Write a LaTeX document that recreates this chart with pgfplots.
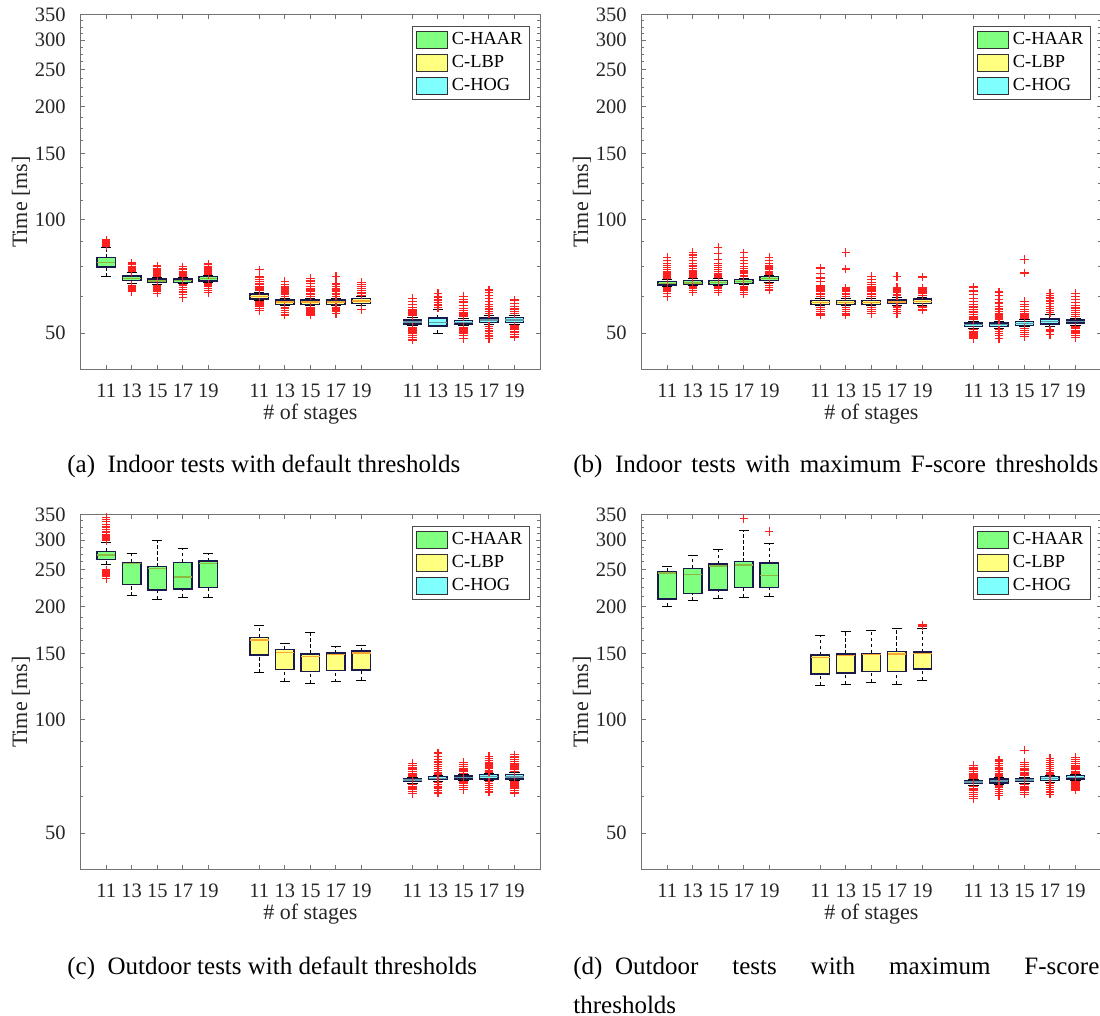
\documentclass[border=0pt]{standalone}
\usepackage{fontspec}
\setmainfont{Liberation Serif}
\usepackage{pgfplots}
\pgfplotsset{compat=1.18}
\definecolor{haar}{rgb}{0.5,1,0.5}
\definecolor{lbp}{rgb}{1,1,0.5}
\definecolor{hog}{rgb}{0.5,1,1}
\definecolor{haarmed}{rgb}{0.55,0.72,0.25}
\definecolor{lbpmed}{rgb}{0.97,0.65,0.2}
\definecolor{hogmed}{rgb}{0.4,0.6,0.65}
\definecolor{axgray}{rgb}{0.45,0.45,0.45}
\definecolor{boxedge}{rgb}{0.1,0.1,0.3}
\definecolor{txtc}{rgb}{0.15,0.15,0.15}
\definecolor{outred}{rgb}{1,0.12,0.12}
\pgfplotsset{
  legend image code/.code={\draw[#1] (0pt,-4.2pt) rectangle (15.5pt,4.2pt);},
  whsk/.style={forget plot, draw=black, line width=0.5pt, dash pattern=on 1.7pt off 1.3pt, mark=none},
  wcap/.style={forget plot, draw=black, line width=0.5pt, mark=none},
  wmed/.style={forget plot, draw=#1, line width=0.7pt, mark=none},
  wbox/.style={forget plot, fill=#1, draw=boxedge, line width=0.7pt, mark=none},
  woutl/.style={forget plot, color=outred, only marks, mark=+, mark size=2.1pt,
    mark options={color=outred, line width=0.65pt, solid}},
}
\newcommand{\axopts}{%
    ymode=log, ymin=40, ymax=350, xmin=0, xmax=18,
    scale only axis, width=229.65pt, height=177.25pt,
    xtick={1,2,3,4,5,7,8,9,10,11,13,14,15,16,17},
    xticklabels={11,13,15,17,19,11,13,15,17,19,11,13,15,17,19},
    ytick={50,100,150,200,250,300,350},
    yticklabels={50,100,150,200,250,300,350},
    minor ytick={62.5,75,87.5,112.5,125,137.5,162.5,175,187.5,212.5,225,237.5,262.5,275,287.5,312.5,325,337.5},
    tick align=inside,
    major tick length=2.15pt, minor tick length=1.35pt,
    every tick/.append style={axgray, line width=0.5pt},
    axis line style={axgray, line width=0.5pt},
    tick label style={font=\fontsize{10.25}{12}\selectfont, text=txtc},
    xticklabel style={yshift=-3.6pt},
    yticklabel style={xshift=-4pt},
    xlabel={\# of stages}, ylabel={Time [ms]},
    label style={font=\fontsize{11}{13}\selectfont, text=txtc},
    xlabel style={at={(axis description cs:0.5,-0.127)}, anchor=center},
    ylabel style={at={(axis description cs:-0.13,0.472)}, anchor=center},
    legend cell align=left,
    legend style={at={(1,1)}, anchor=north east, xshift=-5pt, yshift=-5.35pt,
      draw=black!70, line width=0.5pt, font=\fontsize{9.2}{11}\selectfont,
      inner xsep=1.5pt, inner ysep=1pt}}
\newcommand{\beginaxii}[1]{\begin{axis}[#1]}
\newcommand{\beginax}[2]{\expandafter\beginaxii\expandafter{\axopts, at={(#1,#2)}, anchor=north west}}
\newcommand{\leg}{%
  \addlegendimage{fill=haar, draw=black!80, line width=0.5pt}\addlegendentry{C-HAAR}
  \addlegendimage{fill=lbp, draw=black!80, line width=0.5pt}\addlegendentry{C-LBP}
  \addlegendimage{fill=hog, draw=black!80, line width=0.5pt}\addlegendentry{C-HOG}}
% box: position, lower whisker, lower quartile, median, upper quartile, upper whisker, colour
\newcommand{\bxn}[7]{%
  \pgfmathsetmacro\xl{#1-0.36}\pgfmathsetmacro\xr{#1+0.36}%
  \pgfmathsetmacro\xcl{#1-0.2}\pgfmathsetmacro\xcr{#1+0.2}%
  \edef\tmp{%
    \noexpand\addplot[whsk] coordinates {(#1,#2) (#1,#3)};
    \noexpand\addplot[whsk] coordinates {(#1,#5) (#1,#6)};
    \noexpand\addplot[wcap] coordinates {(\xcl,#2) (\xcr,#2)};
    \noexpand\addplot[wcap] coordinates {(\xcl,#6) (\xcr,#6)};
    \noexpand\addplot[wbox=#7] coordinates {(\xl,#3) (\xr,#3) (\xr,#5) (\xl,#5)} --cycle;
    \noexpand\addplot[wmed=#7med] coordinates {(\xl,#4) (\xr,#4)};
  }\tmp}
% box with outliers (8th argument)
\newcommand{\bx}[8]{\bxn{#1}{#2}{#3}{#4}{#5}{#6}{#7}%
  \addplot[woutl] table[row sep=\\, x expr=#1, y index=0] {v\\ #8};}
\begin{document}
\begin{tikzpicture}
\useasboundingbox (0,0) rectangle (550pt,508pt);
% ---------------- (a)
\beginax{40.35pt}{500.5pt}
\leg
\bx{1}{70.6}{74.8}{77.0}{79.3}{84.2}{haar}{85.2\\ 85.8\\ 86.3\\ 86.8\\ 87.4\\ 88.4\\}
\bx{2}{67.5}{68.9}{69.9}{70.9}{72.4}{haar}{72.8\\ 73.3\\ 73.8\\ 74.2\\ 74.6\\ 75.2\\ 76.0\\ 76.8\\ 67.0\\ 66.5\\ 66.0\\ 65.5\\ 65.1\\ 64.5\\}
\bx{3}{67.2}{68.1}{68.8}{69.5}{70.3}{haar}{70.8\\ 71.3\\ 71.8\\ 72.3\\ 72.8\\ 73.5\\ 74.3\\ 75.3\\ 66.8\\ 66.3\\ 65.8\\ 65.2\\ 64.6\\ 63.8\\}
\bx{4}{67.6}{68.2}{69.0}{69.6}{70.3}{haar}{70.8\\ 71.3\\ 71.8\\ 72.3\\ 72.9\\ 73.6\\ 74.2\\ 75.0\\ 67.2\\ 66.8\\ 66.0\\ 65.2\\ 64.3\\ 63.2\\ 62.2\\}
\bx{5}{68.0}{68.7}{69.7}{70.6}{71.2}{haar}{71.6\\ 72.1\\ 72.6\\ 73.2\\ 73.8\\ 74.4\\ 75.2\\ 76.3\\ 67.5\\ 67.0\\ 66.4\\ 65.7\\ 64.9\\ 64.1\\}
\bx{7}{60.9}{61.6}{62.5}{63.5}{64.2}{lbp}{64.8\\ 65.4\\ 66.0\\ 66.6\\ 67.2\\ 67.8\\ 68.5\\ 69.5\\ 70.5\\ 73.6\\ 60.4\\ 59.9\\ 59.3\\ 58.7\\ 58.0\\ 57.3\\}
\bx{8}{59.0}{59.6}{60.5}{61.2}{61.9}{lbp}{62.6\\ 63.2\\ 63.8\\ 64.3\\ 64.9\\ 65.5\\ 66.3\\ 67.2\\ 68.5\\ 58.5\\ 58.0\\ 57.4\\ 56.7\\ 55.8\\}
\bx{9}{59.0}{59.6}{60.4}{61.2}{61.9}{lbp}{62.6\\ 63.2\\ 63.8\\ 64.4\\ 65.0\\ 65.7\\ 66.6\\ 67.6\\ 68.7\\ 69.8\\ 58.5\\ 57.9\\ 57.2\\ 56.5\\ 55.8\\}
\bx{10}{59.0}{59.6}{60.4}{61.2}{61.9}{lbp}{62.6\\ 63.2\\ 63.8\\ 64.4\\ 65.0\\ 65.7\\ 66.5\\ 67.5\\ 70.6\\ 58.5\\ 57.9\\ 57.2\\ 56.3\\}
\bx{11}{59.3}{59.8}{60.8}{61.7}{62.4}{lbp}{63.0\\ 63.6\\ 64.2\\ 64.8\\ 65.6\\ 66.5\\ 67.3\\ 68.2\\ 57.8\\}
\bx{13}{52.3}{52.8}{53.5}{54.2}{55.0}{hog}{55.6\\ 56.2\\ 56.9\\ 57.6\\ 58.5\\ 59.5\\ 60.6\\ 61.8\\ 51.8\\ 51.2\\ 50.6\\ 50.0\\ 49.3\\ 48.6\\ 47.9\\}
\bx{14}{49.9}{52.2}{53.4}{54.8}{57.8}{hog}{58.5\\ 59.3\\ 60.2\\ 61.2\\ 62.3\\ 63.6\\}
\bx{15}{52.3}{52.8}{53.4}{54.0}{54.8}{hog}{55.3\\ 55.8\\ 56.5\\ 57.3\\ 58.2\\ 59.2\\ 60.4\\ 61.5\\ 62.6\\ 51.8\\ 51.2\\ 50.6\\ 50.0\\ 49.3\\ 48.4\\}
\bx{16}{52.6}{53.3}{54.1}{54.8}{55.8}{hog}{56.4\\ 57.1\\ 57.9\\ 58.7\\ 59.6\\ 60.6\\ 61.7\\ 62.9\\ 64.0\\ 65.1\\ 52.0\\ 51.3\\ 50.6\\ 49.9\\ 49.1\\ 48.4\\}
\bx{17}{52.8}{53.4}{54.2}{55.0}{55.8}{hog}{56.4\\ 57.1\\ 57.9\\ 58.8\\ 59.9\\ 61.2\\ 52.2\\ 51.6\\ 51.0\\ 50.3\\ 49.6\\ 48.8\\}
\end{axis}
% ---------------- (b)
\beginax{320.85pt}{500.5pt}
\leg
\bx{1}{66.3}{67.0}{67.7}{68.5}{69.3}{haar}{69.8\\ 70.4\\ 71.0\\ 71.6\\ 72.2\\ 72.9\\ 73.6\\ 74.5\\ 75.5\\ 76.6\\ 77.8\\ 79.3\\ 65.8\\ 65.1\\ 64.4\\ 63.6\\ 62.5\\}
\bx{2}{66.8}{67.3}{67.9}{68.9}{69.6}{haar}{70.1\\ 70.7\\ 71.3\\ 71.9\\ 72.6\\ 73.4\\ 74.3\\ 75.3\\ 76.5\\ 77.8\\ 79.2\\ 80.6\\ 81.9\\ 66.2\\ 65.6\\ 64.9\\ 64.2\\}
\bx{3}{66.8}{67.3}{68.0}{68.9}{69.6}{haar}{70.1\\ 70.7\\ 71.3\\ 72.0\\ 72.8\\ 73.6\\ 74.5\\ 75.5\\ 76.6\\ 78.4\\ 81.5\\ 84.3\\ 66.3\\ 65.6\\ 64.9\\ 64.2\\}
\bx{4}{67.1}{67.8}{68.5}{69.3}{70.0}{haar}{70.6\\ 71.2\\ 71.9\\ 72.6\\ 73.4\\ 74.3\\ 75.2\\ 76.4\\ 77.8\\ 79.5\\ 81.7\\ 66.5\\ 65.8\\ 65.0\\ 64.2\\ 63.4\\}
\bx{5}{68.2}{69.0}{69.9}{70.6}{71.2}{haar}{71.7\\ 72.3\\ 72.9\\ 73.6\\ 74.4\\ 75.3\\ 76.4\\ 77.8\\ 79.3\\ 67.6\\ 66.9\\ 66.1\\ 65.1\\}
\bx{7}{59.0}{59.6}{60.3}{60.9}{61.7}{lbp}{62.6\\ 63.2\\ 63.8\\ 64.4\\ 65.0\\ 65.6\\ 66.2\\ 67.0\\ 68.5\\ 70.0\\ 72.0\\ 74.4\\ 58.4\\ 57.8\\ 57.1\\ 56.4\\ 55.8\\}
\bx{8}{59.0}{59.6}{60.3}{61.0}{61.8}{lbp}{62.6\\ 63.2\\ 63.8\\ 64.4\\ 65.0\\ 65.8\\ 74.0\\ 81.9\\ 58.4\\ 57.8\\ 57.1\\ 56.4\\ 55.8\\}
\bx{9}{59.0}{59.6}{60.3}{60.9}{61.7}{lbp}{62.6\\ 63.2\\ 63.8\\ 64.4\\ 65.0\\ 65.6\\ 66.3\\ 67.2\\ 68.2\\ 69.3\\ 70.6\\ 58.4\\ 57.7\\ 57.0\\ 56.3\\}
\bx{10}{59.2}{59.8}{60.5}{61.2}{62.0}{lbp}{62.8\\ 63.4\\ 64.0\\ 64.7\\ 65.4\\ 66.0\\ 70.6\\ 58.6\\ 57.8\\ 57.1\\ 56.4\\}
\bx{11}{59.3}{59.9}{60.7}{61.6}{62.3}{lbp}{63.0\\ 63.6\\ 64.3\\ 65.0\\ 65.8\\ 70.4\\ 58.6\\ 57.6\\}
\bx{13}{51.5}{52.0}{52.7}{53.1}{53.7}{hog}{54.2\\ 54.8\\ 55.4\\ 56.1\\ 56.9\\ 57.7\\ 58.6\\ 59.6\\ 60.6\\ 61.8\\ 63.2\\ 64.6\\ 66.2\\ 51.0\\ 50.5\\ 50.0\\ 49.4\\ 48.8\\ 48.4\\}
\bx{14}{51.5}{52.0}{52.6}{53.1}{53.7}{hog}{54.2\\ 54.8\\ 55.5\\ 56.2\\ 57.0\\ 57.9\\ 58.9\\ 60.1\\ 61.5\\ 62.9\\ 64.3\\ 51.0\\ 50.4\\ 49.8\\ 49.2\\ 48.4\\}
\bx{15}{51.9}{52.4}{53.0}{53.7}{54.2}{hog}{54.8\\ 55.5\\ 56.2\\ 57.0\\ 57.8\\ 58.7\\ 59.6\\ 60.7\\ 72.2\\ 78.4\\ 51.4\\ 50.8\\ 50.2\\ 49.6\\ 48.9\\}
\bx{16}{52.0}{52.8}{53.7}{54.5}{56.0}{hog}{56.6\\ 57.3\\ 58.1\\ 58.9\\ 59.8\\ 60.8\\ 61.9\\ 63.0\\ 63.6\\ 50.9\\ 50.4\\ 49.6\\}
\bx{17}{52.5}{53.1}{53.6}{54.2}{54.8}{hog}{55.4\\ 56.0\\ 56.7\\ 57.5\\ 58.3\\ 59.2\\ 60.2\\ 61.3\\ 62.4\\ 63.6\\ 51.9\\ 51.3\\ 50.6\\ 50.0\\ 49.3\\ 48.6\\}
\end{axis}
% ---------------- (c)
\beginax{40.35pt}{250.5pt}
\leg
\bx{1}{259}{267}{274}{280}{296}{haar}{299\\ 302\\ 305\\ 308\\ 311\\ 314\\ 317\\ 320\\ 325\\ 330\\ 336\\ 340\\ 345\\ 250\\ 248\\ 246\\ 245\\ 244\\ 242\\ 240\\ 237\\}
\bxn{2}{213.7}{229}{259.6}{262}{276.8}{haar}
\bxn{3}{209}{221.1}{252.6}{254.9}{300}{haar}
\bxn{4}{211.5}{222.4}{239.5}{262}{285}{haar}
\bxn{5}{211.5}{224.8}{260}{263.9}{276.8}{haar}
\bxn{7}{133.4}{148.6}{162.9}{165.6}{178.4}{lbp}
\bxn{8}{126.4}{136.2}{151.1}{153.9}{159.5}{lbp}
\bxn{9}{124.9}{134.2}{147.3}{149.6}{170.1}{lbp}
\bxn{10}{126}{135}{149}{150.5}{156.3}{lbp}
\bxn{11}{127.5}{135.6}{150.6}{152.3}{157.2}{lbp}
\bx{13}{67.8}{68.5}{69.1}{69.8}{70.4}{hog}{70.9\\ 71.5\\ 72.1\\ 72.8\\ 73.6\\ 74.5\\ 75.5\\ 76.5\\ 67.3\\ 66.6\\ 65.9\\ 65.2\\ 64.4\\ 63.6\\}
\bx{14}{68.7}{69.3}{69.9}{70.6}{71.2}{hog}{71.8\\ 72.5\\ 73.3\\ 74.1\\ 75.0\\ 76.0\\ 77.2\\ 78.5\\ 80.0\\ 81.6\\ 68.1\\ 67.4\\ 66.6\\ 65.8\\ 64.9\\ 63.9\\}
\bx{15}{68.9}{69.5}{70.2}{70.9}{71.5}{hog}{72.1\\ 72.8\\ 73.5\\ 74.3\\ 75.1\\ 76.0\\ 77.1\\ 68.3\\ 67.6\\ 66.9\\ 66.1\\ 65.3\\}
\bx{16}{69.0}{69.6}{70.6}{71.5}{72.1}{hog}{72.7\\ 73.4\\ 74.1\\ 74.9\\ 75.8\\ 76.8\\ 77.8\\ 78.9\\ 80.0\\ 68.4\\ 67.7\\ 66.9\\ 66.1\\ 65.2\\ 64.3\\}
\bx{17}{68.9}{69.5}{70.5}{71.5}{72.2}{hog}{72.9\\ 73.6\\ 74.4\\ 75.3\\ 76.3\\ 77.4\\ 78.5\\ 79.6\\ 80.7\\ 68.3\\ 67.5\\ 66.7\\ 65.8\\ 64.8\\ 63.9\\}
\end{axis}
% ---------------- (d)
\beginax{320.85pt}{250.5pt}
\leg
\bxn{1}{200.4}{209.3}{245.1}{247.4}{254.9}{haar}
\bxn{2}{206.9}{216.7}{243.3}{252.6}{273.7}{haar}
\bxn{3}{210.5}{221.1}{256.4}{259.4}{283.3}{haar}
\bx{4}{211.5}{224.3}{257.7}{262.8}{319}{haar}{342.7\\}
\bx{5}{213}{224.8}{241.8}{260.9}{294.4}{haar}{316.4\\}
\bxn{7}{123.6}{132.3}{146.3}{148.6}{167}{lbp}
\bxn{8}{124.1}{133.1}{148.3}{149.6}{171.1}{lbp}
\bxn{9}{125.7}{134.5}{149}{150.2}{172.8}{lbp}
\bxn{10}{124.4}{134.5}{149.6}{151.8}{175}{lbp}
\bx{11}{127.5}{136.4}{150}{151.2}{174.4}{lbp}{177.2\\ 178.4\\}
\bx{13}{67.0}{67.6}{68.3}{68.9}{69.5}{hog}{70.0\\ 70.6\\ 71.3\\ 72.0\\ 72.8\\ 73.6\\ 74.5\\ 75.5\\ 66.4\\ 65.7\\ 65.0\\ 64.2\\ 63.3\\ 62.5\\ 61.8\\}
\bx{14}{67.3}{67.9}{68.7}{69.5}{70.1}{hog}{70.6\\ 71.3\\ 72.0\\ 72.8\\ 73.6\\ 74.5\\ 75.5\\ 76.6\\ 77.5\\ 78.2\\ 66.7\\ 66.0\\ 65.2\\ 64.4\\ 63.6\\ 62.8\\}
\bx{15}{67.9}{68.5}{69.1}{69.8}{70.4}{hog}{71.0\\ 71.7\\ 72.4\\ 73.2\\ 74.0\\ 75.0\\ 76.0\\ 77.0\\ 83.0\\ 67.3\\ 66.6\\ 65.8\\ 65.0\\ 64.2\\ 63.4\\}
\bx{16}{68.3}{68.9}{69.8}{70.6}{71.2}{hog}{71.8\\ 72.5\\ 73.3\\ 74.1\\ 75.0\\ 76.0\\ 77.0\\ 78.0\\ 79.0\\ 67.7\\ 66.9\\ 66.1\\ 65.2\\ 64.3\\ 63.4\\}
\bx{17}{68.9}{69.5}{70.2}{71.0}{71.6}{hog}{72.2\\ 72.9\\ 73.7\\ 74.5\\ 75.4\\ 76.4\\ 77.4\\ 78.5\\ 79.5\\ 68.3\\ 67.5\\ 66.7\\ 65.9\\ 65.1\\}
\end{axis}
% ---------------- captions
\begin{scope}[every node/.style={anchor=base west, inner sep=0pt, font=\fontsize{12.5}{15}\selectfont}]
\node at (33.5pt,271.75pt) {(a)\hspace{0.5em}Indoor tests with default thresholds};
\node at (286.5pt,271.75pt) {\makebox[262.5pt][s]{(b)\hspace{0.5em}Indoor tests with maximum F-score thresholds}};
\node at (33.5pt,20.75pt) {(c)\hspace{0.5em}Outdoor tests with default thresholds};
\node at (286.5pt,20.75pt) {\makebox[263pt][s]{(d)\hspace{0.5em}Outdoor tests with maximum F-score}};
\node at (286.5pt,1.25pt) {thresholds};
\end{scope}
\end{tikzpicture}
\end{document}
